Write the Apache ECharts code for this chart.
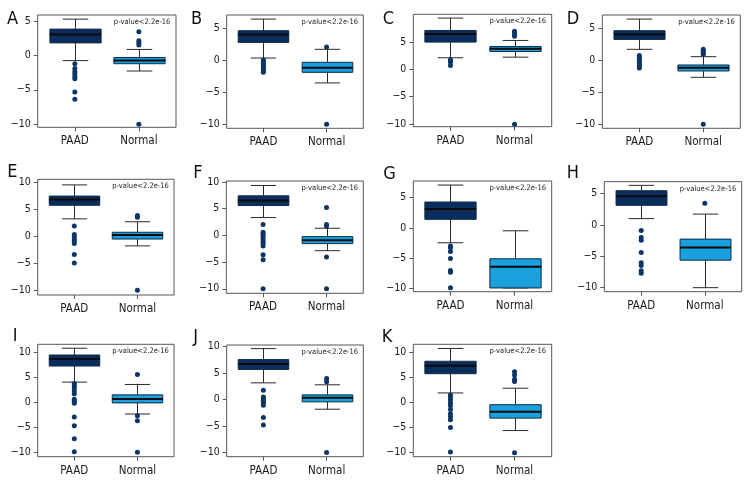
<!DOCTYPE html>
<html>
<head>
<meta charset="utf-8">
<script src="https://cdn.jsdelivr.net/npm/echarts@6/dist/echarts.min.js"></script>
<style>
html,body{margin:0;padding:0;background:#fff;}
#chart{width:756px;height:492px;}
</style>
</head>
<body>
<div id="chart"></div>
<script>
// ---------- data ----------
const categories = ['PAAD', 'Normal'];
const panelLetters = ['A','B','C','D','E','F','G','H','I','J','K'];
const pValueText = 'p-value<2.2e-16';

// [lower whisker, Q1, median, Q3, upper whisker]
const paadStats = [
  [-0.77, 1.80, 3.03, 3.80, 5.25],
  [0.36, 2.81, 4.06, 4.64, 6.46],
  [2.09, 4.94, 6.40, 7.06, 9.31],
  [1.72, 3.28, 4.06, 4.64, 6.46],
  [3.25, 5.77, 6.85, 7.48, 9.56],
  [3.31, 5.56, 6.50, 7.38, 9.31],
  [-2.49, 1.40, 3.10, 4.28, 7.10],
  [0.98, 3.09, 4.52, 5.42, 6.27],
  [4.03, 7.25, 8.66, 9.46, 10.81],
  [3.15, 5.69, 6.69, 7.54, 9.62],
  [1.81, 5.64, 7.25, 8.12, 10.67]
];
const normalStats = [
  [-2.28, -1.22, -0.74, -0.31, 0.85],
  [-3.54, -1.88, -1.15, -0.31, 1.72],
  [2.20, 3.24, 3.72, 4.15, 5.24],
  [-2.66, -1.67, -1.15, -0.73, 0.57],
  [-1.77, -0.50, 0.25, 0.76, 2.71],
  [-2.88, -1.56, -0.94, -0.25, 1.31],
  [-10.0, -10.0, -6.47, -5.15, -0.50],
  [-10.0, -5.62, -3.60, -2.28, 1.70],
  [-2.35, -0.13, 0.67, 1.48, 3.56],
  [-1.83, -0.44, 0.32, 0.88, 2.78],
  [-5.69, -3.21, -1.94, -0.54, 2.75]
];
const paadOutliers = [
  [-1.22, -1.9, -2.38, -2.72, -3.1, -3.39, -5.32, -6.38],
  [0.05, -0.2, -0.5, -0.8, -1.1, -1.4, -1.65, -1.85],
  [1.75, 1.5, 1.3, 0.69],
  [0.75, 0.45, 0.15, -0.15, -0.45, -0.75, -1.05, -1.2],
  [1.92, 0.32, -0.06, -0.44, -0.88, -1.32, -3.38, -4.95],
  [2.0, 0.56, 0.19, -0.25, -0.69, -1.12, -1.56, -2.0, -3.63, -4.56, -10],
  [-3.04, -3.32, -3.93, -5.09, -7.08, -7.4, -9.95],
  [-0.9, -2.01, -2.44, -4.4, -6.04, -6.47, -7.31, -7.7],
  [3.76, 3.29, 2.89, 2.28, 1.68, 0.6, 0.2, -0.2, -2.95, -4.7, -7.32, -9.93],
  [1.77, 0.5, 0.13, -0.25, -0.63, -1.07, -3.4, -4.81],
  [1.41, 1.0, 0.47, -0.13, -0.74, -1.47, -2.34, -2.88, -3.55, -5.07, -9.96]
];
const normalOutliers = [
  [3.41, 2.1, 1.82, 1.48, -10],
  [2.08, -10],
  [6.0, 6.3, 6.6, 6.9, -10],
  [1.72, 1.46, 1.2, 0.94, -10],
  [3.85, 3.53, -10],
  [5.19, 2.0, 1.75, -4.06, -10],
  [],
  [3.41],
  [5.57, -2.68, -3.69, -10],
  [3.97, 3.34, -10],
  [6.03, 5.36, 4.55, 4.08, -10.1]
];
const yTicksSmall = [-10, -5, 0, 5];
const yTicksLarge = [-10, -5, 0, 5, 10];
const panelYTicks = [yTicksSmall, yTicksSmall, yTicksSmall, yTicksSmall, yTicksLarge, yTicksLarge,
                     yTicksSmall, yTicksSmall, yTicksLarge, yTicksLarge, yTicksLarge];
const yRange = [
  [-10.45, 5.85], [-10.65, 7.1], [-10.45, 10.0], [-10.65, 7.1],
  [-10.9, 10.6], [-10.85, 10.15], [-10.62, 7.77], [-10.64, 6.85],
  [-10.9, 11.6], [-10.8, 10.3], [-10.9, 11.5]
];

// ---------- layout ----------
const frames = [ // [left, top, right, bottom]
  [37.7, 15, 176, 127.3], [226.7, 15, 363.3, 128.3], [413.3, 14.3, 551.7, 126.7], [602.3, 15, 740.3, 128.3],
  [37.7, 179.3, 174, 295], [226.3, 181, 363.3, 293.3], [413.3, 181, 551.7, 291.7], [604.3, 181.7, 741.7, 291.7],
  [37.7, 344.3, 174, 456.7], [226.7, 345, 363.3, 456.7], [413.3, 344.3, 551.7, 456.7]
];
const letterPos = [
  [7, 13], [191, 12.5], [382.7, 12.5], [566.7, 12.5],
  [7.3, 166], [193.3, 167], [383.3, 167.5], [566.7, 167],
  [12.7, 330], [193.3, 331], [381.7, 330.5]
];

const FONT = "'Liberation Sans Narrow','DejaVu Sans Condensed','Roboto Condensed',sans-serif";
const PAAD_FILL = '#0b2d5b';
const NORMAL_FILL = '#1aa0dc';
const BOX_BORDER = '#0e2a48';
const WHISKER = '#2a2a2a';
const MEDIAN = '#0a0a0a';
const POINT = '#0c3563';
const FRAME = '#555555';

function boxRenderer(fill) {
  return function (params, api) {
    const x = api.value(0);
    const lo = api.coord([x, api.value(1)]);
    const q1 = api.coord([x, api.value(2)]);
    const md = api.coord([x, api.value(3)]);
    const q3 = api.coord([x, api.value(4)]);
    const hi = api.coord([x, api.value(5)]);
    const bw = api.size([0.8, 0])[0];
    const sw = bw * 0.5;
    const cx = Math.round(lo[0]) + 0.5;
    const ln = (x1, y1, x2, y2, w, c) => ({
      type: 'line', shape: { x1, y1, x2, y2 }, style: { stroke: c, lineWidth: w }
    });
    return {
      type: 'group',
      children: [
        ln(cx, q3[1], cx, hi[1], 1, WHISKER),
        ln(cx, q1[1], cx, lo[1], 1, WHISKER),
        ln(cx - sw / 2, hi[1], cx + sw / 2, hi[1], 1, WHISKER),
        ln(cx - sw / 2, lo[1], cx + sw / 2, lo[1], 1, WHISKER),
        { type: 'rect', shape: { x: cx - bw / 2, y: q3[1], width: bw, height: q1[1] - q3[1] },
          style: { fill: fill, stroke: BOX_BORDER, lineWidth: 1 } },
        ln(cx - bw / 2, md[1], cx + bw / 2, md[1], 2, MEDIAN)
      ]
    };
  };
}

const grid = [], xAxis = [], yAxis = [], series = [], graphic = [];
frames.forEach((f, i) => {
  const [L, T, R, B] = f;
  grid.push({ left: L, top: T, width: R - L, height: B - T, show: true,
              borderColor: FRAME, borderWidth: 1, backgroundColor: 'transparent', containLabel: false });
  xAxis.push({
    type: 'value', gridIndex: i, min: -0.58, max: 1.58, position: 'bottom',
    splitLine: { show: false }, axisLine: { show: false, onZero: false },
    axisTick: { show: true, length: 4, customValues: [0, 1], lineStyle: { color: FRAME } },
    axisLabel: { customValues: [0, 1], margin: 8, formatter: v => categories[Math.round(v)],
                 fontFamily: FONT, fontSize: 11.5, color: '#1a1a1a' }
  });
  yAxis.push({
    type: 'value', gridIndex: i, min: yRange[i][0], max: yRange[i][1], position: 'left',
    splitLine: { show: false }, axisLine: { show: false, onZero: false },
    axisTick: { show: true, length: 4, customValues: panelYTicks[i], lineStyle: { color: FRAME } },
    axisLabel: { customValues: panelYTicks[i], margin: 7,
                 formatter: v => String(v).replace('-', '\u2212'),
                 fontFamily: FONT, fontSize: 10.5, color: '#1a1a1a' }
  });
  series.push({
    type: 'custom', xAxisIndex: i, yAxisIndex: i, silent: true,
    renderItem: boxRenderer(PAAD_FILL),
    encode: { x: 0, y: [1, 2, 3, 4, 5] },
    data: [[0].concat(paadStats[i])]
  });
  series.push({
    type: 'custom', xAxisIndex: i, yAxisIndex: i, silent: true,
    renderItem: boxRenderer(NORMAL_FILL),
    encode: { x: 0, y: [1, 2, 3, 4, 5] },
    data: [[1].concat(normalStats[i])]
  });
  series.push({
    type: 'scatter', xAxisIndex: i, yAxisIndex: i, silent: true,
    symbol: 'circle', symbolSize: 5, itemStyle: { color: POINT, opacity: 1 },
    data: paadOutliers[i].map(v => [0, v]).concat(normalOutliers[i].map(v => [1, v]))
  });
  graphic.push({
    type: 'text', x: L + 0.755 * (R - L), y: T + 7,
    style: { text: pValueText, font: '7.5px ' + FONT, fill: '#222', align: 'center', verticalAlign: 'middle' }
  });
  graphic.push({
    type: 'text', x: letterPos[i][0], y: letterPos[i][1] - 2.5,
    style: { text: panelLetters[i], font: '18px ' + FONT, fill: '#111', align: 'left', verticalAlign: 'top' }
  });
});

const chart = echarts.init(document.getElementById('chart'), null, { renderer: 'canvas' });
chart.setOption({
  backgroundColor: '#ffffff',
  animation: false,
  grid, xAxis, yAxis, series, graphic
});
</script>
</body>
</html>
